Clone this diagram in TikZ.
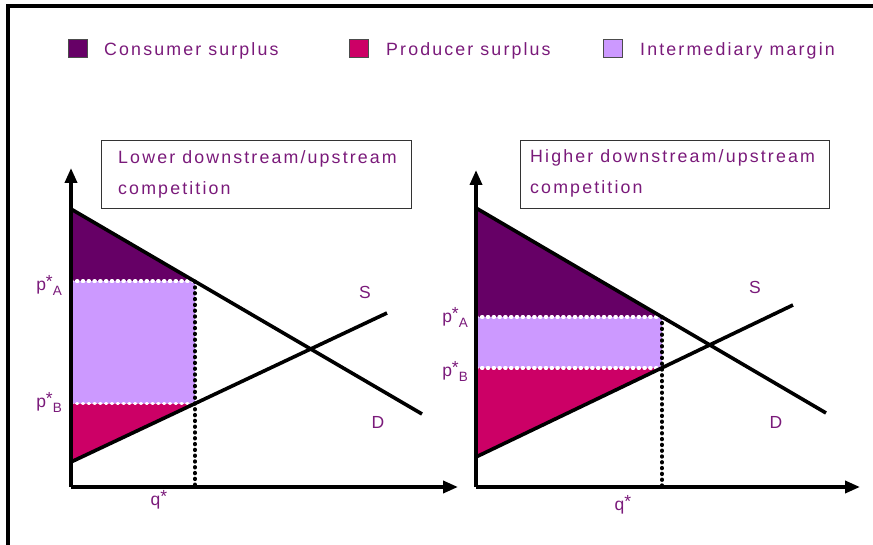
\documentclass[tikz,border=0pt]{standalone}
\usepackage{fontspec}
\setmainfont{Liberation Sans}
\newfontfamily\spaced[LetterSpace=12]{Liberation Sans}
\usetikzlibrary{arrows.meta}
\definecolor{cons}{HTML}{660066}
\definecolor{prod}{HTML}{CC0066}
\definecolor{marg}{HTML}{CC99FF}
\definecolor{txt}{HTML}{7A1A7A}
\tikzset{
  lbl/.style={text=txt, font=\spaced\fontsize{17.8}{20}\selectfont, inner sep=0pt, anchor=west},
  plbl/.style={text=txt, font=\fontsize{17.5}{20}\selectfont, inner sep=0pt},
  axisline/.style={line width=3.6pt, -{Triangle[length=15pt,width=12pt]}},
  curveline/.style={line width=3.6pt},
  wdots/.style={white, line width=3.8pt, dash pattern=on 0.8pt off 5pt, line cap=round},
  bdots/.style={black, line width=3.8pt, dash pattern=on 0.6pt off 5.2pt, line cap=round},
  legsq/.style={draw=black!70, line width=1pt, minimum width=19pt, minimum height=18pt, inner sep=0pt},
  titlebox/.style={draw=black!80, line width=1pt}
}
\begin{document}
\begin{tikzpicture}[x=1pt,y=-1pt]
\useasboundingbox (0,0) rectangle (873,545);
% frame
\coordinate (fb) at (8,545);
\coordinate (fc) at (8,6);
\coordinate (fr) at (873,6);
\draw[line width=3.6pt] (fb) -- (fc) -- (fr);

% legend
\node[legsq, fill=cons] (sq1) at (78,49) {};
\node[lbl] (t1) at (104,50.5) {Consumer surplus};
\node[legsq, fill=prod] (sq2) at (358.5,49) {};
\node[lbl] (t2) at (386,50.5) {Producer surplus};
\node[legsq, fill=marg] (sq3) at (613,49) {};
\node[lbl] (t3) at (640,50.5) {Intermediary margin};

% title boxes
\draw[titlebox] (101,141) rectangle (411,209);
\node[lbl] (bl1) at (118,159) {Lower downstream/upstream};
\node[lbl] (bl2) at (118,190) {competition};
\draw[titlebox] (520,141) rectangle (829,209);
\node[lbl] (br1) at (530,158) {Higher downstream/upstream};
\node[lbl] (br2) at (530,189) {competition};

% ---------- left graph ----------
\coordinate (LO) at (71,487);
\coordinate (LY) at (71,168);
\coordinate (LX) at (458,487);
\coordinate (LD0) at (71,209);
\coordinate (LD1) at (422,414);
\coordinate (LS0) at (71,462);
\coordinate (LS1) at (387,313);
\coordinate (LA0) at (71,281.4);
\coordinate (LA1) at (195,281.4);
\coordinate (LB0) at (71,403.5);
\coordinate (LB1) at (195,403.5);
\coordinate (LQ) at (195,487);
\fill[cons] (LD0) -- (LA1) -- (LA0) -- cycle;
\fill[marg] (LA0) rectangle (LB1);
\fill[prod] (LB0) -- (LB1) -- (LS0) -- cycle;
\draw[wdots] (LA0) -- (LA1);
\draw[wdots] (LB0) -- (LB1);
\draw[bdots] (LA1) -- (LQ);
\draw[curveline] (LD0) -- (LD1);
\draw[curveline] (LS0) -- (LS1);
\draw[axisline] (LO) -- (LY);
\draw[axisline] (LO) -- (LX);
\node[plbl] (lS) at (365,292) {S};
\node[plbl] (lD) at (378,422) {D};
\node[plbl, anchor=east] (lpa) at (62,285) {p\raisebox{3pt}{*}\raisebox{-5pt}{\fontsize{13.5}{15}\selectfont A}};
\node[plbl, anchor=east] (lpb) at (62,402) {p\raisebox{3pt}{*}\raisebox{-5pt}{\fontsize{13.5}{15}\selectfont B}};
\node[plbl] (lq) at (159,500) {q\raisebox{3pt}{*}};

% ---------- right graph ----------
\coordinate (RO) at (476,487);
\coordinate (RY) at (476,170);
\coordinate (RX) at (860,487);
\coordinate (RD0) at (476,208);
\coordinate (RD1) at (826,413);
\coordinate (RS0) at (476,457);
\coordinate (RS1) at (793,305);
\coordinate (RA0) at (476,317);
\coordinate (RA1) at (662,317);
\coordinate (RB0) at (476,367.8);
\coordinate (RB1) at (662,367.8);
\coordinate (RQ) at (662,487);
\fill[cons] (RD0) -- (RA1) -- (RA0) -- cycle;
\fill[marg] (RA0) rectangle (RB1);
\fill[prod] (RB0) -- (RB1) -- (RS0) -- cycle;
\draw[wdots] (RA0) -- (RA1);
\draw[wdots] (RB0) -- (RB1);
\draw[bdots] (RA1) -- (RQ);
\draw[curveline] (RD0) -- (RD1);
\draw[curveline] (RS0) -- (RS1);
\draw[axisline] (RO) -- (RY);
\draw[axisline] (RO) -- (RX);
\node[plbl] (rS) at (755,287) {S};
\node[plbl] (rD) at (776,422) {D};
\node[plbl, anchor=east] (rpa) at (468,317) {p\raisebox{3pt}{*}\raisebox{-5pt}{\fontsize{13.5}{15}\selectfont A}};
\node[plbl, anchor=east] (rpb) at (468,371) {p\raisebox{3pt}{*}\raisebox{-5pt}{\fontsize{13.5}{15}\selectfont B}};
\node[plbl] (rq) at (623,505) {q\raisebox{3pt}{*}};
\end{tikzpicture}
\end{document}
